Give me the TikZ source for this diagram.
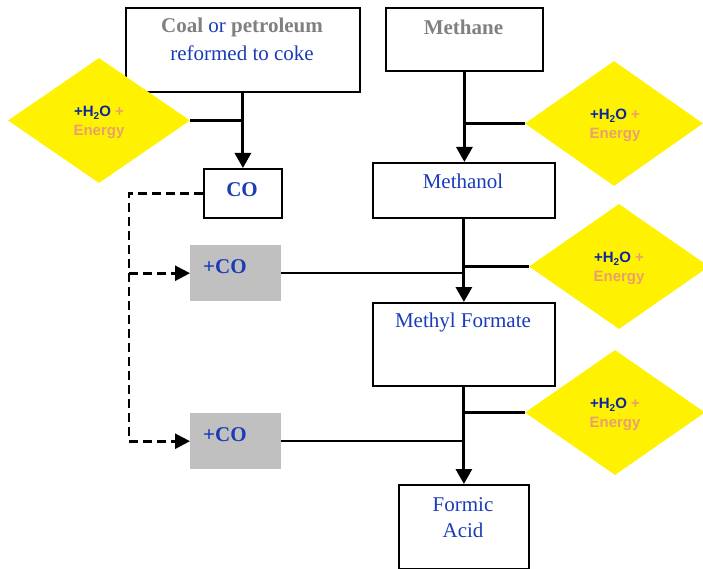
\documentclass[tikz,border=0pt]{standalone}
\usepackage{fontspec}
\setmainfont{Liberation Serif}
\setsansfont{Liberation Sans}
\usetikzlibrary{shapes.geometric,arrows.meta}
\definecolor{txtblue}{RGB}{26,60,184}
\definecolor{h2oblue}{RGB}{10,40,160}
\definecolor{salmon}{RGB}{232,160,112}
\definecolor{graytxt}{RGB}{128,128,128}
\definecolor{graybox}{RGB}{192,192,192}
\newcommand{\waterenergy}{{\color{h2oblue}+H\raisebox{-3pt}{\fontsize{10}{10}\selectfont 2}O} {\color{salmon}+}\\{\color{salmon}Energy}}
\begin{document}
\begin{tikzpicture}[x=1pt,y=-1pt,
  box/.style={draw, line width=1.8pt, inner sep=0pt, anchor=north west},
  cobox/.style={fill=graybox, inner sep=0pt, anchor=north west, minimum width=91pt, minimum height=56pt},
  diam/.style={diamond, fill=yellow, inner sep=0pt, minimum width=180pt, minimum height=125pt, align=center,
    font=\sffamily\bfseries\fontsize{15}{19}\selectfont},
  dtext/.style={inner sep=0pt, align=center, font=\sffamily\bfseries\fontsize{15}{19}\selectfont},
  serif/.style={inner sep=0pt, text=txtblue, font=\fontsize{21}{25}\selectfont},
  arrowline/.style={line width=3pt, -{Triangle[length=15pt,width=16pt]}},
  feedline/.style={line width=2.2pt},
  dashline/.style={line width=2.6pt, dash pattern=on 9pt off 5pt, -{Triangle[length=15pt,width=15pt]}}
]
\useasboundingbox (0,0) rectangle (703,569);

% boxes
\node[box, minimum width=234pt, minimum height=84pt] (coal) at (125,7) {};
\node[box, minimum width=157pt, minimum height=63pt] (methane) at (385,7) {};
\node[box, minimum width=78pt, minimum height=49pt] (co) at (203,168) {};
\node[box, minimum width=182pt, minimum height=55pt] (methanol) at (372,162) {};
\node[box, minimum width=182pt, minimum height=83pt] (mf) at (372,302) {};
\node[box, minimum width=130pt, minimum height=84pt] (fa) at (398,484) {};
\node[cobox] (co1) at (190,245) {};
\node[cobox] (co2) at (190,413) {};

% diamonds
\node[diam, minimum width=182pt] (d1) at (99,120.5) {};
\node[diam, minimum width=178pt] (d2) at (614,123.5) {};
\node[diam] (d3) at (619,266.5) {};
\node[diam] (d4) at (615,412.5) {};
\node[dtext] (d1t) at (99,122.5) {\waterenergy};
\node[dtext] (d2t) at (615,125.5) {\waterenergy};
\node[dtext] (d3t) at (619,268.5) {\waterenergy};
\node[dtext] (d4t) at (615,414.5) {\waterenergy};

% texts
\node[serif] (coalt1) at (242,27) {\textbf{\color{graytxt}Coal} or \textbf{\color{graytxt}petroleum}};
\node[serif] (coalt2) at (242,53) {reformed to coke};
\node[serif, text=graytxt, font=\bfseries\fontsize{21}{25}\selectfont] (methanet) at (463.5,27) {Methane};
\node[serif, font=\bfseries\fontsize{21}{25}\selectfont] (cot) at (242,190) {CO};
\node[serif] (methanolt) at (463,181) {Methanol};
\node[serif] (mft) at (463,322) {Methyl Formate};
\node[serif] (fat1) at (463,505) {Formic};
\node[serif] (fat2) at (463,530) {Acid};
\node[serif, anchor=west, font=\bfseries\fontsize{21}{25}\selectfont] (co1t) at (203,267) {+CO};
\node[serif, anchor=west, font=\bfseries\fontsize{21}{25}\selectfont] (co2t) at (203,435) {+CO};

% main arrows
\draw[arrowline] (coal.south) -- (co.north);
\draw[arrowline] (methane.south) -- (methane.south |- methanol.north);
\draw[arrowline] (methanol.south) -- (mf.north);
\draw[arrowline] (mf.south) -- (fa.north);

% feeds
\draw[feedline] (d1.east) -- (d1.east -| coal.south);
\draw[feedline] (d2.west) -- (d2.west -| methane.south);
\draw[feedline] (d3.west) -- (d3.west -| methanol.south);
\draw[feedline] (d4.west) -- (d4.west -| mf.south);
\draw[feedline] (co1.east) -- (co1.east -| methanol.south);
\draw[feedline] (co2.east) -- (co2.east -| mf.south);

% dashed CO recycle
\coordinate (bend) at (129,0);
\draw[dashline] (co.west) -| (bend |- co2.west) -- (co2.west);
\draw[dashline] (bend |- co1.west) -- (co1.west);
\end{tikzpicture}
\end{document}
